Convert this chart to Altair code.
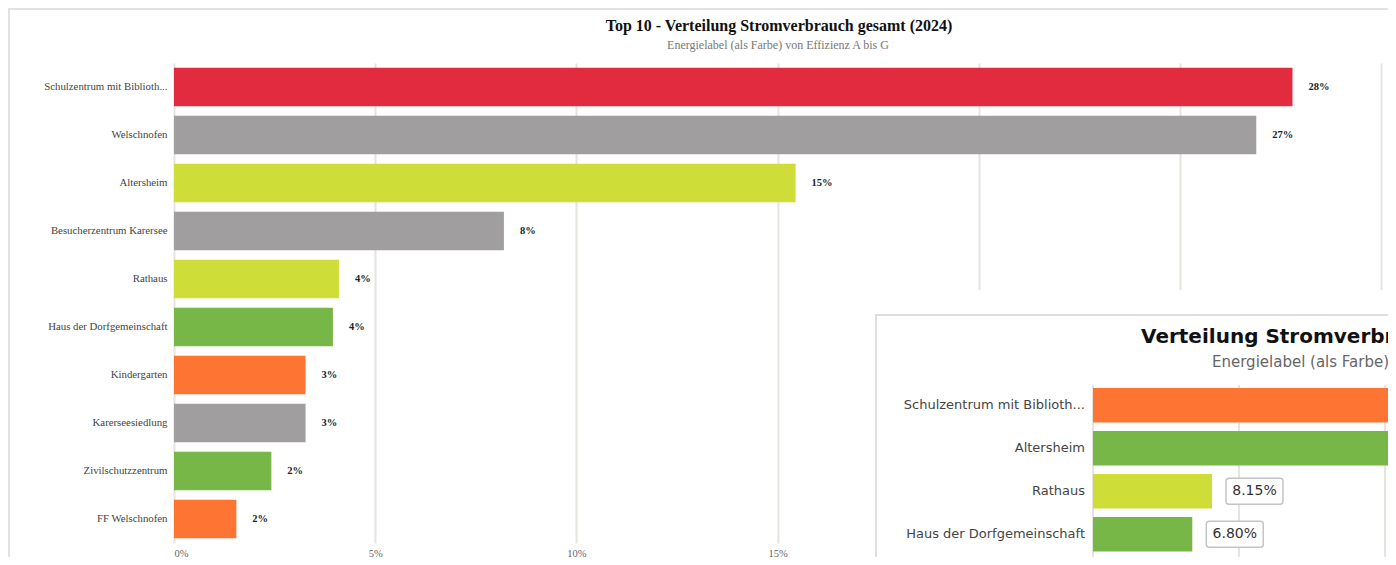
import altair as alt
import pandas as pd

# ---------------- data ----------------
main_names = ["Schulzentrum mit Biblioth...", "Welschnofen", "Altersheim",
              "Besucherzentrum Karersee", "Rathaus", "Haus der Dorfgemeinschaft",
              "Kindergarten", "Karerseesiedlung", "Zivilschutzzentrum", "FF Welschnofen"]
main_values = [27.8, 26.9, 15.45, 8.2, 4.1, 3.95, 3.27, 3.27, 2.42, 1.55]
main_classes = ["G", "k.A.", "C", "k.A.", "C", "B", "E", "k.A.", "B", "E"]
main_ticks = [0, 5, 10, 15, 20, 25, 30]

inset_names = ["Schulzentrum mit Biblioth...", "Altersheim", "Rathaus",
               "Haus der Dorfgemeinschaft", "Kindergarten"]
inset_values = [31.2, 24.6, 8.15, 6.80, 6.10]
inset_classes = ["E", "B", "C", "B", "E"]
inset_ticks = [0, 10, 20, 30]

class_domain = ["B", "C", "E", "G", "k.A."]
class_colors = ["#77b747", "#cfdd38", "#fe7432", "#e32b3f", "#a09e9e"]

main_title = "Top 10 - Verteilung Stromverbrauch gesamt (2024)"
main_subtitle = "Energielabel (als Farbe) von Effizienz A bis G"
inset_title = "Verteilung Stromverbrauch gesamt (2024)"
inset_subtitle = "Energielabel (als Farbe) von Effizienz A bis G"

# ---------------- style ----------------
SERIF = "Liberation Serif"
SANS = "DejaVu Sans"
GRID = "#e7e4df"
W, H = 1207, 480

main_df = pd.DataFrame({"name": main_names, "value": main_values, "cls": main_classes})
inset_df = pd.DataFrame({"iname": inset_names, "ivalue": inset_values, "cls": inset_classes})
itick_df = pd.DataFrame({"g": inset_ticks})

color = alt.Color("cls:N", scale=alt.Scale(domain=class_domain, range=class_colors), legend=None)

xs = alt.Scale(domain=[0, 30], nice=False, zero=True)
ys = alt.Scale(domain=main_names, paddingInner=0.2, paddingOuter=0.1)

bars = alt.Chart(main_df).mark_bar().encode(
    x=alt.X("value:Q", scale=xs,
            axis=alt.Axis(values=main_ticks, labelExpr="datum.value + '%'", grid=True,
                          gridColor=GRID, gridWidth=2, domain=False, ticks=False,
                          labelFont=SERIF, labelFontSize=10.5, labelColor="#666",
                          labelPadding=5, title=None, zindex=0)),
    y=alt.Y("name:N", sort=None, scale=ys,
            axis=alt.Axis(title=None, domain=False, ticks=False, labelFont=SERIF,
                          labelFontSize=10.8, labelColor="#444", labelPadding=7,
                          labelLimit=300, zindex=0)),
    color=color,
)

labels = alt.Chart(main_df).transform_calculate(
    label="format(datum.value, '.0f') + '%'"
).mark_text(align="left", baseline="middle", dx=16, font=SERIF, fontSize=10.5,
            fontWeight="bold", color="#222").encode(
    x=alt.X("value:Q", scale=xs),
    y=alt.Y("name:N", sort=None, scale=ys),
    text="label:N",
)

one = lambda d: alt.Data(values=[d])

border_top = alt.Chart(one({"k": 1})).mark_rule(color="#e2e2e2", strokeWidth=2).encode(
    x=alt.value(-166), x2=alt.value(1300), y=alt.value(-54))
border_left = alt.Chart(one({"k": 1})).mark_rule(color="#e2e2e2", strokeWidth=2).encode(
    x=alt.value(-165), y=alt.value(-55), y2=alt.value(700))

t_main = alt.Chart(one({"t": main_title})).mark_text(
    align="center", baseline="alphabetic", font=SERIF, fontSize=16, fontWeight="bold",
    color="#111").encode(x=alt.value(605), y=alt.value(-32), text="t:N")
s_main = alt.Chart(one({"t": main_subtitle})).mark_text(
    align="center", baseline="alphabetic", font=SERIF, fontSize=12,
    color="#777").encode(x=alt.value(604), y=alt.value(-14), text="t:N")

main = alt.layer(bars, labels, border_top, border_left, t_main, s_main)

# ---------------- inset chart ----------------
ixs = alt.Scale(domain=[0, 20], range=[919, 1211], nice=False, zero=True)
iys = alt.Scale(domain=inset_names, range=[320.7, 535.7], paddingInner=0.2, paddingOuter=0.1)

cover = alt.Chart(one({"k": 1})).mark_rect(fill="white").encode(
    x=alt.value(677), x2=alt.value(1300), y=alt.value(227), y2=alt.value(700))
box = alt.Chart(one({"k": 1})).mark_rect(fill="white", stroke="#dedede", strokeWidth=2).encode(
    x=alt.value(702), x2=alt.value(1400), y=alt.value(252), y2=alt.value(800))

igrid = alt.Chart(itick_df).mark_rule(color=GRID, strokeWidth=2).encode(
    x=alt.X("g:Q", scale=ixs, axis=None), y=alt.value(322), y2=alt.value(700))

ibars = alt.Chart(inset_df).mark_bar().encode(
    x=alt.X("ivalue:Q", scale=ixs, axis=None),
    y=alt.Y("iname:N", sort=None, scale=iys, axis=None),
    color=color,
)

iboxes = alt.Chart(inset_df).mark_bar(
    fill="white", stroke="#c4c4c4", strokeWidth=1.5, cornerRadius=3,
    xOffset=14, x2Offset=71, size=26).encode(
    x=alt.X("ivalue:Q", scale=ixs, axis=None),
    x2="ivalue:Q",
    y=alt.Y("iname:N", sort=None, scale=iys, axis=None),
)

itexts = alt.Chart(inset_df).transform_calculate(
    label="format(datum.ivalue, '.2f') + '%'"
).mark_text(align="center", baseline="middle", dx=42.5, font=SANS, fontSize=14,
            color="#333").encode(
    x=alt.X("ivalue:Q", scale=ixs, axis=None),
    y=alt.Y("iname:N", sort=None, scale=iys, axis=None),
    text="label:N",
)

ilabels = alt.Chart(inset_df).mark_text(
    align="right", baseline="middle", font=SANS, fontSize=13, color="#444").encode(
    x=alt.value(911),
    y=alt.Y("iname:N", sort=None, scale=iys, axis=None),
    text="iname:N",
)

t_inset = alt.Chart(one({"t": inset_title})).mark_text(
    align="left", baseline="alphabetic", font=SANS, fontSize=20, fontWeight="bold",
    color="#111").encode(x=alt.value(967), y=alt.value(280), text="t:N")
s_inset = alt.Chart(one({"t": inset_subtitle})).mark_text(
    align="left", baseline="alphabetic", font=SANS, fontSize=15,
    color="#666").encode(x=alt.value(1038), y=alt.value(304), text="t:N")

inset = alt.layer(cover, box, igrid, ibars, iboxes, itexts, ilabels, t_inset, s_inset)

chart = alt.layer(main, inset).resolve_scale(
    x="independent", y="independent"
).properties(
    width=W, height=H,
    autosize=alt.AutoSizeParams(type="none"),
    padding={"left": 166, "top": 55, "right": 7, "bottom": 14},
).configure_view(stroke=None)

chart.save("out.html", embed_options={"renderer": "svg", "actions": False})
